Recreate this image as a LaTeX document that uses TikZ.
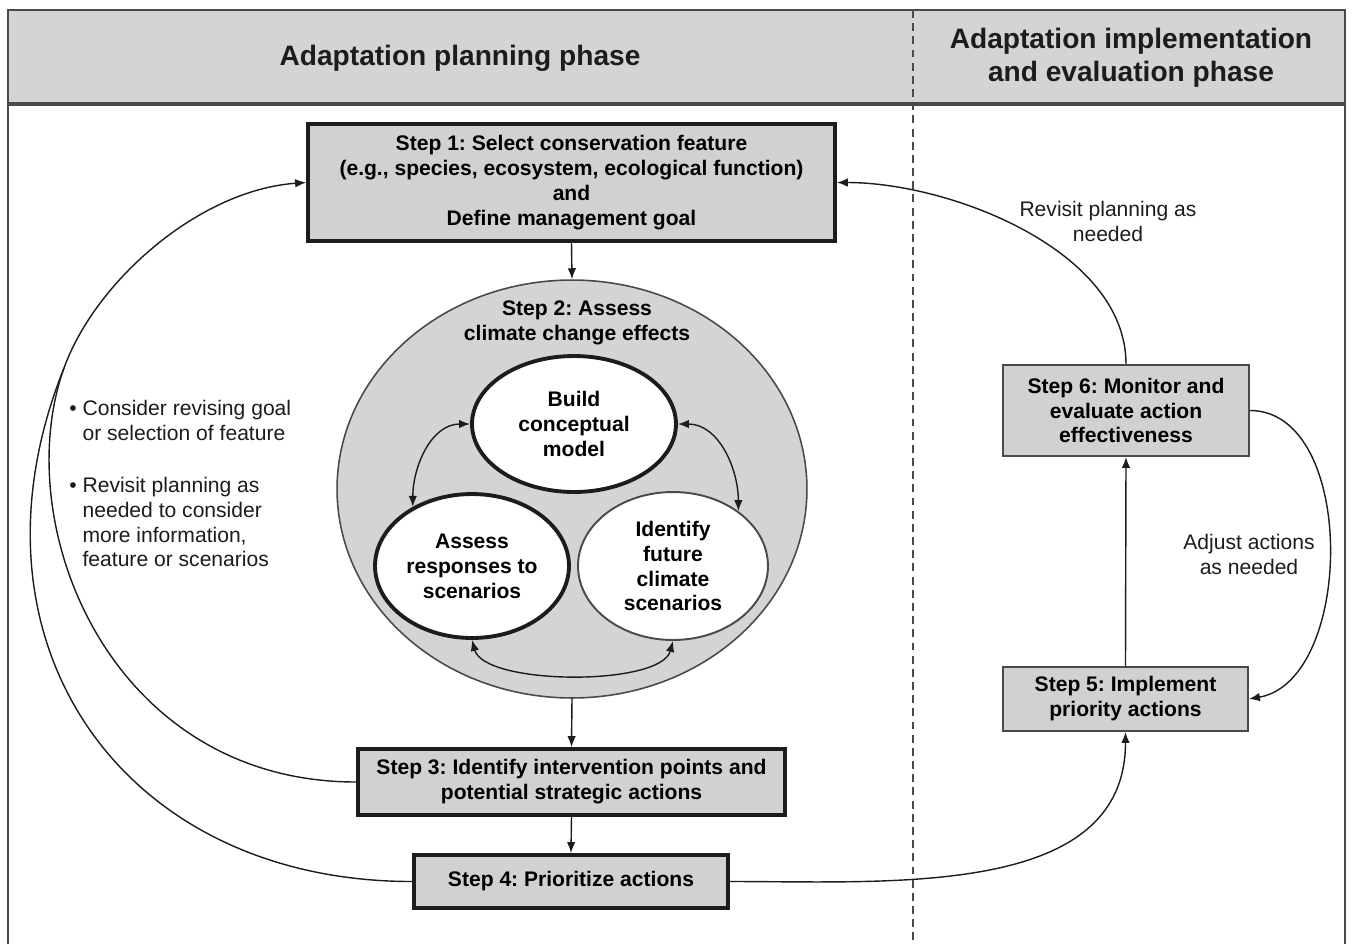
\documentclass[tikz,border=0pt]{standalone}
\usepackage{fontspec}
\setmainfont{Liberation Sans}
\usepackage{xcolor}
\usepackage{tikz}
\usetikzlibrary{shapes.geometric,arrows.meta}
\frenchspacing
\definecolor{band}{HTML}{D4D4D4}
\definecolor{boxfill}{HTML}{D1D1D1}
\definecolor{ink}{HTML}{1C1C1C}
\definecolor{frame}{HTML}{4A4A4A}
\tikzset{
  stepbox/.style={draw=ink, fill=boxfill, line width=2.2pt, align=center, inner sep=0pt,
    font=\bfseries\fontsize{12}{14.2}\selectfont},
  thinbox/.style={stepbox, draw=frame, line width=1.1pt},
  oval/.style={ellipse, draw=ink, fill=white, line width=2.2pt, align=center, inner sep=0pt,
    font=\bfseries\fontsize{12}{14.2}\selectfont},
  flow/.style={draw=ink, line width=0.8pt, -{Latex[length=2.2mm,width=1.7mm]}},
  link/.style={draw=ink, line width=0.8pt},
  both/.style={flow, {Latex[length=2.2mm,width=1.7mm]}-{Latex[length=2.2mm,width=1.7mm]}},
  lab/.style={align=center, font=\bfseries\fontsize{12}{14.2}\selectfont},
  note/.style={align=center, text=ink, font=\fontsize{12}{14.2}\selectfont},
  tip/.style={note, align=left, inner sep=0pt, anchor=west},
  head/.style={align=center, text=ink, font=\bfseries\fontsize{16}{18.7}\selectfont}
}

\begin{document}
\begin{tikzpicture}[x=0.02cm, y=0.02cm]
  \useasboundingbox (0,0) rectangle (1353,-944);
  \fill[band] (8,-10) rectangle (1345,-104);
  \draw[frame, line width=1.6pt] (8,-944) -- (8,-10) -- (1345,-10) -- (1345,-944);
  \draw[frame, line width=2pt] (8,-104) -- (1345,-104);
  \draw[frame, line width=0.9pt, dash pattern=on 4.5pt off 3pt] (913,-10) -- (913,-944);
  \node[head] (hplan) at (460,-58) {Adaptation planning phase};
  \node[head] (himpl) at (1131,-58) {Adaptation implementation\\and evaluation phase};

  \node[stepbox, minimum width=10.54cm, minimum height=2.34cm] (s1) at (571.5,-182.5)
    {Step 1: Select conservation feature\\(e.g., species, ecosystem, ecological function)\\and\\Define management goal};
  \node[ellipse, draw=frame, fill=band, line width=0.9pt, minimum width=9.4cm, minimum height=8.36cm] (s2) at (572,-489) {};
  \node[lab] (s2lab) at (577,-323) {Step 2: Assess\\climate change effects};
  \node[oval, minimum width=4.08cm, minimum height=2.72cm] (build) at (574,-424) {Build\\conceptual\\model};
  \node[oval, minimum width=3.88cm, minimum height=2.88cm] (assess) at (472,-566) {Assess\\responses to\\scenarios};
  \node[oval, draw=frame, line width=1.1pt, minimum width=3.8cm, minimum height=2.96cm] (ident) at (673,-566)
    {Identify\\future\\climate\\scenarios};
  \node[stepbox, minimum width=8.54cm, minimum height=1.32cm] (s3) at (571.5,-782)
    {Step 3: Identify intervention points and\\potential strategic actions};
  \node[stepbox, minimum width=6.28cm, minimum height=1.06cm] (s4) at (571,-881.5) {Step 4: Prioritize actions};
  \node[thinbox, minimum width=4.92cm, minimum height=1.82cm] (s6) at (1126,-410.5)
    {Step 6: Monitor and\\evaluate action\\effectiveness};
  \node[thinbox, minimum width=4.9cm, minimum height=1.28cm] (s5) at (1125.5,-699) {Step 5: Implement\\priority actions};

  \node[tip] (tip1) at (69,-420) {\textbullet\ Consider revising goal\\\hphantom{\textbullet\ }or selection of feature};
  \node[tip] (tip2) at (69,-522) {\textbullet\ Revisit planning as\\\hphantom{\textbullet\ }needed to consider\\\hphantom{\textbullet\ }more information,\\\hphantom{\textbullet\ }feature or scenarios};
  \node[note] (revisit) at (1108,-221) {Revisit planning as\\needed};
  \node[note] (adjust) at (1249,-554) {Adjust actions\\as needed};

  \draw[flow] (s1.south) -- (s2.north);
  \draw[flow] (s2.south) -- (s3.north);
  \draw[flow] (s3.south) -- (s4.north);
  \draw[flow] (s5.north) -- (s6.south);
  \draw[both] (build.west) to[out=180,in=90] (assess.135);
  \draw[both] (build.east) to[out=0,in=90] (ident.40);
  \draw[both] (assess.south) to[out=-75,in=-105,looseness=0.6] (ident.south);
  \coordinate (join) at (64,-368);
  \draw[link] (s3.west) .. controls (110,-782) and (8,-525) .. (join);
  \draw[link] (s4.west) .. controls (120,-881.5) and (-45,-640) .. (join);
  \draw[flow] (join) .. controls (96,-280) and (200,-190) .. (s1.west);
  \draw[flow] (s6.north) to[out=90,in=0,looseness=0.85] (s1.east);
  \draw[flow] (s6.east) to[out=0,in=10,looseness=0.95] (s5.east);
  \draw[flow] (s4.east) to[out=0,in=-90] (s5.south);
\end{tikzpicture}
\end{document}
